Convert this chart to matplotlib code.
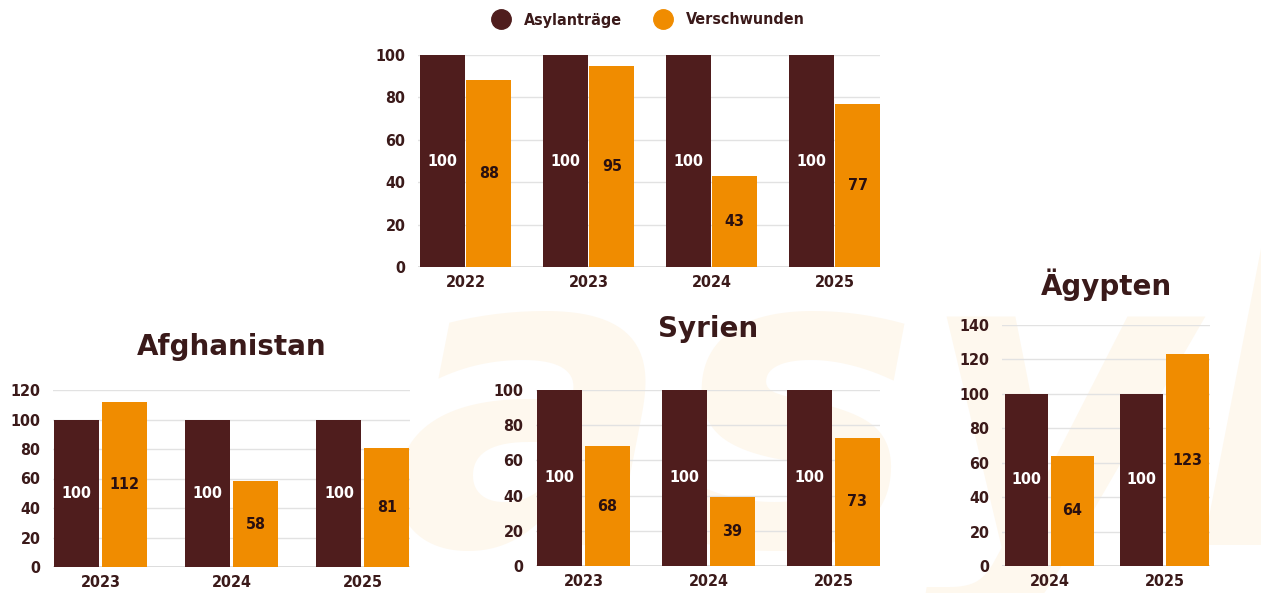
import numpy as np
import matplotlib
matplotlib.use('Agg')
import matplotlib.pyplot as plt
from matplotlib.lines import Line2D

# values: asylum applications indexed to 100, disappeared relative to that
total_years = ['2022', '2023', '2024', '2025']
total_asyl = [100, 100, 100, 100]
total_versch = [88, 95, 43, 77]

afg_years = ['2023', '2024', '2025']
afg_asyl = [100, 100, 100]
afg_versch = [112, 58, 81]

syr_years = ['2023', '2024', '2025']
syr_asyl = [100, 100, 100]
syr_versch = [68, 39, 73]

egy_years = ['2024', '2025']
egy_asyl = [100, 100]
egy_versch = [64, 123]

BROWN = '#4f1d1d'
ORANGE = '#f08c00'
TXT = '#3b1a1a'

plt.rcParams['font.family'] = ['DejaVu Sans']
FONT = dict(family='DejaVu Sans', stretch='condensed', weight='bold')

W, H = 1261, 593
fig = plt.figure(figsize=(W / 100, H / 100), dpi=100)
fig.patch.set_facecolor('white')

# faint watermark behind everything
wm = fig.text(0.31, -0.07, 'asyl', fontsize=300, fontstyle='italic', fontweight='bold',
              color='#fef8ee', ha='left', va='bottom', zorder=-5)


def px_axes(x0, x1, y0, y1):
    # pixel box -> figure fraction (y measured from top)
    ax = fig.add_axes([x0 / W, (H - y0) / H, (x1 - x0) / W, (y0 - y1) / H])
    ax.set_zorder(2)
    return ax


def panel(ax, years, asyl, versch, ymax, step, xlim, width, off, title=None, title_y=None):
    x = np.arange(len(years))
    ax.set_facecolor('none')
    b1 = ax.bar(x - off, asyl, width, color=BROWN, zorder=3)
    b2 = ax.bar(x + off, versch, width, color=ORANGE, zorder=3)
    for r, v in zip(b1, asyl):
        ax.text(r.get_x() + r.get_width() / 2, v / 2, str(v), ha='center', va='center',
                color='white', fontsize=11.5, zorder=4, **FONT)
    for r, v in zip(b2, versch):
        ax.text(r.get_x() + r.get_width() / 2, v / 2, str(v), ha='center', va='center',
                color='#2a1010', fontsize=11.5, zorder=4, **FONT)
    ax.set_ylim(0, ymax)
    ax.set_xlim(*xlim)
    ax.set_yticks(np.arange(0, ymax + 1, step))
    ax.set_xticks(x)
    ax.set_xticklabels(years)
    ax.grid(axis='y', color='#e2e2e2', linewidth=1, zorder=0)
    for s in ax.spines.values():
        s.set_visible(False)
    ax.axhline(0, color='#d8d8d8', linewidth=1.2, zorder=2)
    ax.tick_params(length=0, labelcolor=TXT)
    ax.tick_params(axis='y', pad=9)
    ax.tick_params(axis='x', pad=6)
    for lab in ax.get_xticklabels() + ax.get_yticklabels():
        lab.set_fontsize(11.5)
        lab.set_fontweight('bold')
        lab.set_fontstretch('condensed')
    if title:
        ax.set_title(title, fontsize=20, fontweight='heavy', color='#3a1a1a',
                     y=title_y, family='DejaVu Sans')


ax1 = px_axes(418, 880, 267, 55)
panel(ax1, total_years, total_asyl, total_versch, 100, 20, (-0.386, 3.37), 0.365, 0.19)

ax2 = px_axes(53, 410, 567, 390)
panel(ax2, afg_years, afg_asyl, afg_versch, 120, 20, (-0.363, 2.36), 0.343, 0.182,
      'Afghanistan', 1.15)

ax3 = px_axes(536, 880, 566, 390)
panel(ax3, syr_years, syr_asyl, syr_versch, 100, 20, (-0.38, 2.372), 0.36, 0.19,
      'Syrien', 1.255)

ax4 = px_axes(1002, 1210, 566, 325)
panel(ax4, egy_years, egy_asyl, egy_versch, 140, 20, (-0.413, 1.395), 0.38, 0.2,
      'Ägypten', 1.09)

handles = [Line2D([], [], marker='o', linestyle='none', markersize=14, color=BROWN),
           Line2D([], [], marker='o', linestyle='none', markersize=14, color=ORANGE)]
fig.legend(handles, ['Asylanträge', 'Verschwunden'], loc='center', ncol=2,
           bbox_to_anchor=(645 / W, 1 - 20 / H), frameon=False, handletextpad=0.4,
           columnspacing=1.6, prop=dict(family='DejaVu Sans', stretch='condensed',
                                        weight='bold', size=11.5),
           labelcolor=TXT)

fig.savefig('out.png', dpi=100, facecolor='white')
